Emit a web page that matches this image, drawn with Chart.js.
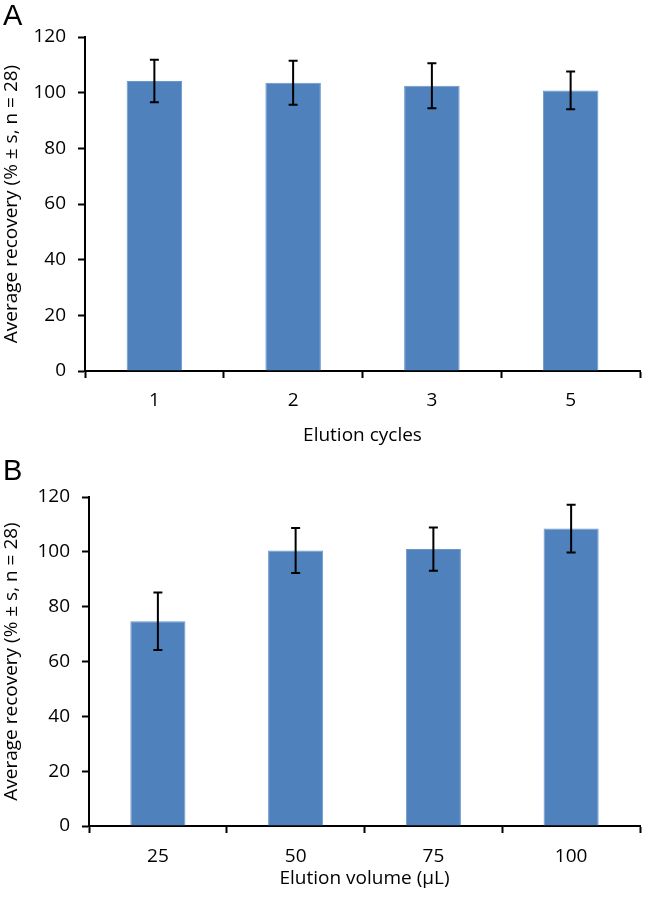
<!DOCTYPE html>
<html>
<head>
<meta charset="utf-8">
<script src="https://cdn.jsdelivr.net/npm/chart.js@4/dist/chart.umd.min.js"></script>
<style>
  html, body { margin: 0; padding: 0; background: #fff; }
  #wrap { position: relative; width: 645px; height: 902px; }
  .panel { position: absolute; left: 0; width: 645px; }
  .letter { position: absolute; left: 3px; font-family: "Liberation Sans", Arial, sans-serif; font-size: 29px; color: #000; line-height: 1; }
</style>
</head>
<body>
<div id="wrap">
  <div class="panel" style="top:0;height:450px"><canvas id="chartA"></canvas></div>
  <div class="panel" style="top:450px;height:452px"><canvas id="chartB"></canvas></div>
  <div class="letter" style="top:1px">A</div>
  <div class="letter" style="top:456px">B</div>
</div>
<script>
// panel A: elution cycles
const cycleLabels = ["1", "2", "3", "5"];
const cycleRecovery = [104.2, 103.6, 102.5, 100.8];
const cycleSD = [7.6, 7.9, 8.1, 6.8];

// panel B: elution volume
const volumeLabels = ["25", "50", "75", "100"];
const volumeRecovery = [74.7, 100.5, 101.0, 108.5];
const volumeSD = [10.5, 8.2, 7.9, 8.7];

const yTitle = "Average recovery (% \u00b1 s, n = 28)";
const fontFamily = "'Open Sans', sans-serif";

// draws the +/- s whiskers on top of each bar
const errorBars = {
  id: "errorBars",
  afterDatasetsDraw(chart, args, opts) {
    const ctx = chart.ctx;
    const y = chart.scales.y;
    const meta = chart.getDatasetMeta(0);
    const vals = chart.data.datasets[0].data;
    ctx.save();
    ctx.strokeStyle = "#000";
    ctx.lineWidth = 2;
    meta.data.forEach((bar, i) => {
      const sd = opts.sd[i];
      const top = y.getPixelForValue(vals[i] + sd);
      const bot = y.getPixelForValue(vals[i] - sd);
      const x = bar.x;
      ctx.beginPath();
      ctx.moveTo(x, top); ctx.lineTo(x, bot);
      ctx.moveTo(x - 4.5, top); ctx.lineTo(x + 4.5, top);
      ctx.moveTo(x - 4.5, bot); ctx.lineTo(x + 4.5, bot);
      ctx.stroke();
    });
    ctx.restore();
  }
};

function makeChart(id, labels, values, sd, xTitle, o) {
  return new Chart(document.getElementById(id), {
    type: "bar",
    data: {
      labels: labels,
      datasets: [{
        data: values,
        backgroundColor: "#4f81bd",
        borderColor: "#6b96cc",
        borderWidth: 1,
        barPercentage: 0.8,
        categoryPercentage: 0.5
      }]
    },
    options: {
      responsive: true,
      maintainAspectRatio: false,
      animation: false,
      layout: { padding: { top: o.top, right: 5, left: 0, bottom: 0 } },
      plugins: {
        legend: { display: false },
        tooltip: { enabled: false },
        errorBars: { sd: sd }
      },
      scales: {
        x: {
          grid: { drawOnChartArea: false, tickLength: 7, tickColor: "#000", tickWidth: 2, offset: true },
          border: { color: "#000", width: 2 },
          ticks: { color: "#000", font: { family: fontFamily, size: 19 }, padding: o.tickPad },
          title: { display: true, text: xTitle, color: "#000", font: { family: fontFamily, size: 19 }, padding: { top: 0, bottom: o.titlePad } },
          afterFit: (s) => { s.height = o.xHeight; }
        },
        y: {
          min: 0, max: 120,
          grid: { drawOnChartArea: false, tickLength: 7, tickColor: "#000", tickWidth: 2 },
          border: { color: "#000", width: 2 },
          ticks: { stepSize: 20, color: "#000", font: { family: fontFamily, size: 19 }, padding: 12 },
          title: { display: true, text: yTitle, color: "#000", font: { family: fontFamily, size: 19 }, padding: { top: 0, bottom: 0 } },
          afterFit: (s) => { s.width = o.yWidth; }
        }
      }
    },
    plugins: [errorBars]
  });
}

makeChart("chartA", cycleLabels, cycleRecovery, cycleSD, "Elution cycles",
  { top: 37, xHeight: 79, yWidth: 85, titlePad: 3, tickPad: 11 });
makeChart("chartB", volumeLabels, volumeRecovery, volumeSD, "Elution volume (\u00b5L)",
  { top: 47, xHeight: 76, yWidth: 89, titlePad: 12, tickPad: 12 });
</script>
</body>
</html>
